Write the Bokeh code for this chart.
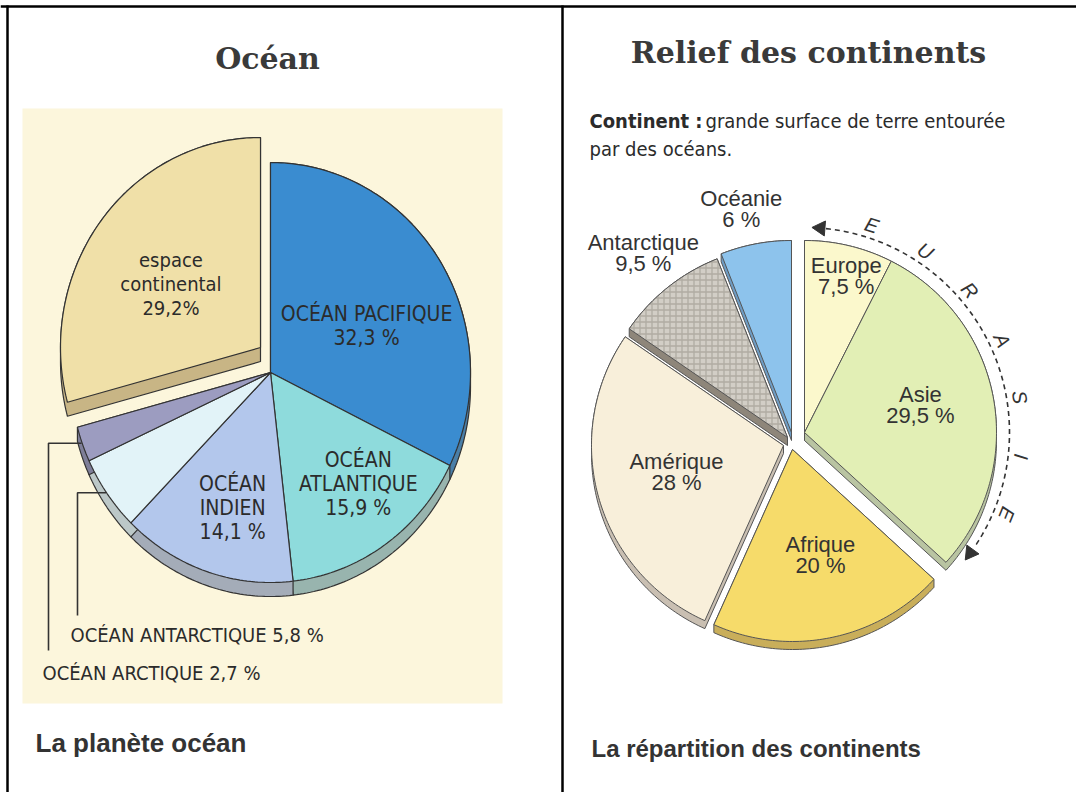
import numpy as np
from bokeh.plotting import figure
from bokeh.models import Range1d
from bokeh.core.properties import value
from bokeh.embed import file_html
from bokeh.resources import INLINE

# ---------------- data ----------------
ocean_names = ["OCÉAN PACIFIQUE", "OCÉAN ATLANTIQUE", "OCÉAN INDIEN",
               "OCÉAN ANTARCTIQUE", "OCÉAN ARCTIQUE", "espace continental"]
ocean_pct = [32.3, 15.9, 14.1, 5.8, 2.7, 29.2]
ocean_pct_text = ["32,3 %", "15,9 %", "14,1 %", "5,8 %", "2,7 %", "29,2%"]

continent_names = ["Europe", "Asie", "Afrique", "Amérique", "Antarctique", "Océanie"]
continent_pct = [7.5, 29.5, 20, 28, 9.5, 6]
continent_pct_text = ["7,5 %", "29,5 %", "20 %", "28 %", "9,5 %", "6 %"]

eurasie_letters = list("EURASIE")

title_left = "Océan"
title_right = "Relief des continents"
caption_left = "La planète océan"
caption_right = "La répartition des continents"
def_bold = "Continent :"
def_line1 = "grande surface de terre entourée"
def_line2 = "par des océans."

# ---------------- styles ----------------
ocean_top = ["#3a8cd0", "#8edbdc", "#b3c7ec", "#e2f3f8", "#9c9cc0", "#f0e0a8"]
ocean_rim = ["#4a7fa8", "#98b4ae", "#a4acb8", "#bcc8c8", "#7e7e98", "#c8b585"]
ocean_offset = [(0, 0), (0, 0), (0, 0), (0, 0), (0, 0), (-10, -25)]
ocean_label_pos = [(0.528, 24.5), (0.69, -50.5), (0.675, -106.3), None, None, (0.54, 146)]
ocean_wrap = [False, True, True, False, False, True]
ocean_label_size = [21, 21, 21, 20, 20, 20]

cont_top = ["#fbf8cc", "#e2efb5", "#f6db6a", "#f8efda", "#d2cec6", "#8dc3ec"]
cont_rim = ["#d8d4a8", "#b9c4a2", "#c9ae5a", "#c9bfb2", "#8e867a", "#6e9cc4"]
cont_offset = [(9, -8), (9, -8), (-3, 9), (-12, 5), (-8, -3), (-4, -8)]
cont_label_pos = [(0.84, 75), (0.62, 13.2), (0.57, -75.2), (0.575, -165.8), (1.22, 128), (1.19, 102.7)]

W, H = 1076, 792
NARROW = "DejaVu Sans Condensed, Liberation Sans Narrow, Roboto Condensed, Roboto"
SANS = "Liberation Sans"
SERIF = "DejaVu Serif"
INK = "#2b2b2b"
BASE_FIX = 0.37   # baseline correction (em) for alphabetic text in the svg output


def fx(v):
    return np.asarray(v, dtype=float)


def fy(v):
    return H - np.asarray(v, dtype=float)


p = figure(width=W, height=H, x_range=Range1d(0, W), y_range=Range1d(0, H),
           output_backend="svg", toolbar_location=None, min_border=0,
           x_axis_type=None, y_axis_type=None)
p.grid.visible = False
p.outline_line_color = None
p.background_fill_color = "white"
p.border_fill_color = "white"


def add_text(x, y, txt, font, size, style="normal", align="left", color=INK,
             angle=0.0, baseline="alphabetic"):
    if baseline == "alphabetic":
        y = y - BASE_FIX * size
    p.text(x=[float(fx(x))], y=[float(fy(y))], text=[txt], text_font=value(font),
           text_font_size=f"{size}px", text_font_style=style, text_align=align,
           text_baseline=baseline, text_color=color, angle=angle)


def text_block(lines, cx, cy, font, size, spacing, style="normal", color=INK):
    n = len(lines)
    for i, ln in enumerate(lines):
        b = cy + (i - (n - 1) / 2) * spacing + 0.36 * size
        add_text(cx, b, ln, font, size, style=style, align="center", color=color)


def wedge_pts(cx, cy, rx, ry, a0, a1):
    n = max(int(abs(a1 - a0)), 2) + 1
    t = np.radians(np.linspace(a0, a1, n))
    xs = np.concatenate([[cx], cx + rx * np.cos(t)])
    ys = np.concatenate([[cy], cy - ry * np.sin(t)])
    return xs, ys


def convex_hull(xs, ys):
    pts = sorted(set(zip(np.round(xs, 3), np.round(ys, 3))))

    def cross(o, a, b):
        return (a[0] - o[0]) * (b[1] - o[1]) - (a[1] - o[1]) * (b[0] - o[0])
    lower, upper = [], []
    for q in pts:
        while len(lower) >= 2 and cross(lower[-2], lower[-1], q) <= 0:
            lower.pop()
        lower.append(q)
    for q in reversed(pts):
        while len(upper) >= 2 and cross(upper[-2], upper[-1], q) <= 0:
            upper.pop()
        upper.append(q)
    h = lower[:-1] + upper[:-1]
    return [q[0] for q in h], [q[1] for q in h]


def draw_pie(vals, cx, cy, rx, ry, offsets, depth, tops, rims, lc, lw, hatch_idx=None):
    total = float(sum(vals))
    start = 90.0
    geo = []
    rxs, rys, txs, tys = [], [], [], []
    for v, (dx, dy) in zip(vals, offsets):
        a0, a1 = start, start - 360.0 * v / total
        start = a1
        ccx, ccy = cx + dx, cy + dy
        xs, ys = wedge_pts(ccx, ccy, rx, ry, a0, a1)
        hx, hy = convex_hull(np.concatenate([xs, xs]), np.concatenate([ys, ys + depth]))
        rxs.append(fx(hx)); rys.append(fy(hy))
        txs.append(fx(xs)); tys.append(fy(ys))
        geo.append((ccx, ccy, a0, a1))
    p.patches(xs=rxs, ys=rys, fill_color=rims, line_color=lc, line_width=lw)
    idx = [i for i in range(len(vals)) if i != hatch_idx]
    p.patches(xs=[txs[i] for i in idx], ys=[tys[i] for i in idx],
              fill_color=[tops[i] for i in idx], line_color=lc, line_width=lw)
    if hatch_idx is not None:
        i = hatch_idx
        p.patches(xs=[txs[i]], ys=[tys[i]], fill_color=tops[i], line_color=lc,
                  line_width=lw, hatch_pattern="+", hatch_color="#a8a298",
                  hatch_scale=6, hatch_weight=1.3, hatch_alpha=0.8)
    return geo


# ---------------- frame / table lines ----------------
p.quad(left=[float(fx(22))], right=[float(fx(502))], top=[float(fy(108))],
       bottom=[float(fy(703))], fill_color="#fcf6dc", line_color=None)
p.line(x=fx([0, W]), y=fy([6, 6]), line_color="black", line_width=2.5)
p.line(x=fx([7, 7]), y=fy([5, H]), line_color="black", line_width=2.5)
p.line(x=fx([562, 562]), y=fy([5, H]), line_color="black", line_width=2.5)

# ---------------- left: Océan ----------------
add_text(267, 69, title_left, SERIF, 30, style="bold", align="center", color="#3a3a3a")
L = dict(cx=270, cy=372, rx=200, ry=210)
geoL = draw_pie(ocean_pct, L["cx"], L["cy"], L["rx"], L["ry"], ocean_offset, 14,
                ocean_top, ocean_rim, "#333333", 1.2)
for i, (name, pct) in enumerate(zip(ocean_names, ocean_pct_text)):
    pos = ocean_label_pos[i]
    if pos is None:
        continue
    ccx, ccy, a0, a1 = geoL[i]
    rho, ang = pos
    lx = ccx + rho * L["rx"] * np.cos(np.radians(ang))
    ly = ccy - rho * L["ry"] * np.sin(np.radians(ang))
    lines = (name.split(" ") if ocean_wrap[i] else [name]) + [pct]
    text_block(lines, lx, ly, NARROW, ocean_label_size[i], 24)

# leader lines for the two small oceans
leaders = {3: (77, 615, 70, 642), 4: (48, 650, 42, 680)}
for i, (vx, vbot, tx, tb) in leaders.items():
    ccx, ccy, a0, a1 = geoL[i]
    mid = np.radians((a0 + a1) / 2)
    sx = ccx + L["rx"] * np.cos(mid) - 1
    sy = ccy - L["ry"] * np.sin(mid) - 1
    p.line(x=fx([sx, vx, vx]), y=fy([sy, sy, vbot]), line_color="#333333", line_width=1.6)
    add_text(tx, tb, f"{ocean_names[i]} {ocean_pct_text[i]}", NARROW, ocean_label_size[i])

add_text(35, 752, caption_left, SANS, 26, style="bold", color="#333333")

# ---------------- right: Relief des continents ----------------
add_text(808, 63, title_right, SERIF, 30, style="bold", align="center", color="#3a3a3a")
add_text(589, 128, def_bold, NARROW, 20, style="bold")
add_text(705, 128, def_line1, NARROW, 20)
add_text(589, 156, def_line2, NARROW, 20)

R = dict(cx=795, cy=440, r=192)
geoR = draw_pie(continent_pct, R["cx"], R["cy"], R["r"], R["r"], cont_offset, 8,
                cont_top, cont_rim, "#555555", 1.0, hatch_idx=4)
for i, (name, pct) in enumerate(zip(continent_names, continent_pct_text)):
    ccx, ccy, a0, a1 = geoR[i]
    rho, ang = cont_label_pos[i]
    lx = ccx + rho * R["r"] * np.cos(np.radians(ang))
    ly = ccy - rho * R["r"] * np.sin(np.radians(ang))
    text_block([name, pct], lx, ly, SANS, 22, 21, color="#333333")

# EURASIE arc with arrows
ecx, ecy, _, _ = geoR[0]
arc_r = 205
t = np.radians(np.linspace(84, -34, 120))
p.line(x=fx(ecx + arc_r * np.cos(t)), y=fy(ecy - arc_r * np.sin(t)),
       line_color="#333333", line_width=1.6, line_dash="5 4")
for phi, rot in [(85.5, 85.5), (-36.0, -36.0 - 180.0)]:
    ax = ecx + arc_r * np.cos(np.radians(phi))
    ay = ecy - arc_r * np.sin(np.radians(phi))
    p.scatter(x=[float(fx(ax))], y=[float(fy(ay))], marker="triangle", size=15,
              angle=float(np.radians(rot)), fill_color="#333333", line_color="#333333")
letter_angles = np.linspace(72, -22, len(eurasie_letters))
for letter, phi in zip(eurasie_letters, letter_angles):
    lx = ecx + 218 * np.cos(np.radians(phi))
    ly = ecy - 218 * np.sin(np.radians(phi))
    add_text(lx, ly, letter, SANS, 20, style="italic", align="center",
             color="#333333", angle=float(np.radians(phi - 90)), baseline="middle")

add_text(591, 757, caption_right, SANS, 24, style="bold", color="#333333")

open("out.html", "w").write(file_html(p, INLINE))
